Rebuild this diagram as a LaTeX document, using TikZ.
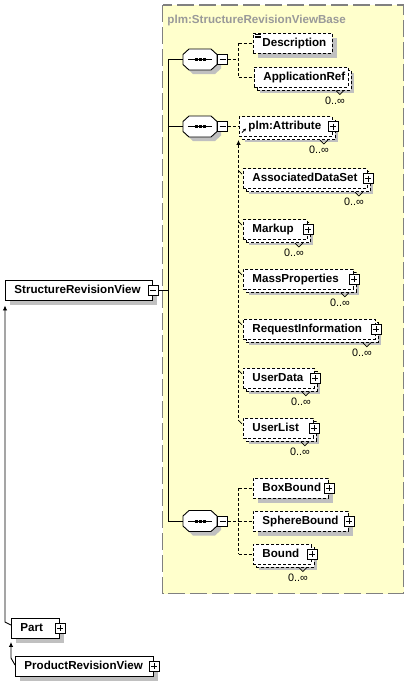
\documentclass[tikz,border=0pt]{standalone}
\usepackage{fontspec}
\setmainfont{Liberation Sans}
\usetikzlibrary{calc,arrows.meta}
\definecolor{shadowc}{RGB}{192,192,192}
\definecolor{yel}{RGB}{255,255,204}
\definecolor{framec}{RGB}{128,128,128}
\definecolor{titlec}{RGB}{153,153,153}
\newcommand{\seqcomp}[3]{%
\begin{scope}[shift={(#2,#3)}]
 \fill[shadowc] (-7,-6.5) -- (15,-6.5) -- (21,-1) -- (21,9) -- (15,14.5) -- (-7,14.5) -- (-13,9) -- (-13,-1) -- cycle;
 \draw[fill=white] (-11,-10.5) -- (11,-10.5) -- (17,-5) -- (17,5) -- (11,10.5) -- (-11,10.5) -- (-17,5) -- (-17,-5) -- cycle;
 \node[inner sep=0pt, minimum width=34, minimum height=21] (#1) at (0,0) {};
 \draw[line width=0.8pt] (-12,0) -- (12,0);
 \fill (-5.5,-1.5) rectangle (-2.5,1.5);
 \fill (-1.5,-1.5) rectangle (1.5,1.5);
 \fill (2.5,-1.5) rectangle (5.5,1.5);
 \node[minus] (#1m) at (22.5,0) {};
\end{scope}}
\newcommand{\occ}[1]{%
 \draw[solid, line width=0.7pt] ($(#1.south east)+(-13,3)$) -- ++(4,4) -- ++(4,-4);
 \node[lbl] (#1occ) at ($(#1.south east)+(-14,13)$) {0..∞};}
\newcommand{\subtick}[1]{%
 \draw[solid, line width=0.7pt] ($(#1.north -| sx)+(0,2.5)$) -- ($(#1.north west)+(-1,6)$);}
\begin{document}
\begin{tikzpicture}[x=1pt,y=-1pt,line width=0.9pt,
  el/.style={draw, fill=white, anchor=west, minimum height=20, inner xsep=9pt, inner ysep=0pt,
    font=\bfseries\fontsize{11.6}{13}\selectfont, text height=8.5pt, text depth=2.3pt},
  opt/.style={dash pattern=on 3pt off 2pt},
  sh/.style={preaction={draw=none, fill=shadowc, transform canvas={xshift=4.5pt, yshift=-4.5pt}}},
  multi/.style={preaction={draw=none, fill=shadowc, transform canvas={xshift=5.5pt, yshift=-5.5pt}},
    preaction={draw, fill=white, line width=0.9pt, dash pattern=on 3pt off 2pt, transform canvas={xshift=3pt, yshift=-3pt}}},
  pmbox/.style={draw, solid, fill=white, minimum size=10, inner sep=0pt, line width=0.8pt},
  plus/.style={pmbox, path picture={
    \draw[solid, line width=0.8pt] ($(path picture bounding box.west)+(2,0)$) -- ($(path picture bounding box.east)+(-2,0)$);
    \draw[solid, line width=0.8pt] ($(path picture bounding box.north)+(0,2)$) -- ($(path picture bounding box.south)+(0,-2)$);}},
  minus/.style={pmbox, path picture={
    \draw[solid, line width=0.8pt] ($(path picture bounding box.west)+(2,0)$) -- ($(path picture bounding box.east)+(-2,0)$);}},
  lbl/.style={font=\fontsize{10.8}{12}\selectfont, inner sep=0pt},
  ttl/.style={font=\bfseries\fontsize{11.6}{13}\selectfont, text=titlec, anchor=base west, inner sep=0pt},
  arr/.style={{Latex[length=5pt,width=4.5pt]}-}
]
\useasboundingbox (0,0) rectangle (409,689);
\draw[framec, fill=yel, line width=1.5pt, dash pattern=on 17pt off 5pt] (162.5,5) rectangle (403.5,593.5);
\node[ttl] (title) at (167,23) {plm:StructureRevisionViewBase};

% global elements
\node[el, sh] (srv) at (5,290.5) {\makebox[129pt][l]{StructureRevisionView}};
\node[minus] (srvm) at (srv.east) {};
\node[el, sh] (part) at (11,628) {\makebox[30pt][l]{Part}};
\node[plus] (partp) at (part.east) {};
\node[el, sh] (prv) at (15,666) {\makebox[120pt][l]{ProductRevisionView}};
\node[plus] (prvp) at (prv.east) {};

% compositors
\seqcomp{seqa}{200}{59.5}
\seqcomp{seqb}{200}{126.5}
\seqcomp{seqc}{200}{521}

% sequence 1 children
\node[el, opt, sh] (desc) at (253,43) {\makebox[61pt][l]{Description}};
\draw[solid, line width=0.6pt] ($(desc.north west)+(2,1.5)$) -- ++(6,0)
  ($(desc.north west)+(2,3.3)$) -- ++(6,0) ($(desc.north west)+(2,5.1)$) -- ++(6,0);
\node[el, opt, multi] (appref) at (254,77) {\makebox[76pt][l]{ApplicationRef}};
\occ{appref}

% sequence 2 children
\node[el, opt, multi] (attr) at (239,126.5) {\makebox[75pt][l]{plm:Attribute}};
\node[plus] (attrp) at (attr.east) {};
\occ{attr}
\draw[solid, line width=0.8pt, -{Stealth[length=3pt,width=3pt]}] ($(attr.west)+(3,6)$) -- ++(4,-4);

\node[el, opt, multi] (ads) at (243,178.5) {\makebox[106pt][l]{AssociatedDataSet}};
\node[plus] (adsp) at (ads.east) {};
\occ{ads}
\node[el, opt, multi] (markup) at (243,229.5) {\makebox[46pt][l]{Markup}};
\node[plus] (markupp) at (markup.east) {};
\occ{markup}
\node[el, opt, multi] (mass) at (243,279.3) {\makebox[92pt][l]{MassProperties}};
\node[plus] (massp) at (mass.east) {};
\occ{mass}
\node[el, opt, multi] (req) at (243,329.3) {\makebox[114pt][l]{RequestInformation}};
\node[plus] (reqp) at (req.east) {};
\occ{req}
\node[el, opt, multi] (udata) at (243,378.3) {\makebox[53pt][l]{UserData}};
\node[plus] (udatap) at (udata.east) {};
\occ{udata}
\node[el, opt, multi] (ulist) at (243,428.3) {\makebox[52pt][l]{UserList}};
\node[plus] (ulistp) at (ulist.east) {};
\occ{ulist}

% sequence 3 children
\node[el, opt, sh] (boxb) at (253,488.3) {\makebox[57pt][l]{BoxBound}};
\node[plus] (boxbp) at (boxb.east) {};
\node[el, opt, sh] (sphb) at (253,521) {\makebox[77pt][l]{SphereBound}};
\node[plus] (sphbp) at (sphb.east) {};
\node[el, opt, multi] (bound) at (253,554) {\makebox[40pt][l]{Bound}};
\node[plus] (boundp) at (bound.east) {};
\occ{bound}

% main connectors
\coordinate (mv) at (168,0);
\draw (srvm.east) -- (srvm.east -| mv);
\draw (seqa.west -| mv) -- (seqc.west -| mv);
\draw (seqa.west -| mv) -- (seqa.west);
\draw (seqb.west -| mv) -- (seqb.west);
\draw (seqc.west -| mv) -- (seqc.west);

% optional connectors
\coordinate (sx) at (238.5,0);
\draw[opt] (seqam.east) -- (seqam.east -| sx);
\draw[opt] (desc.west -| sx) -- (appref.west -| sx);
\draw[opt] (desc.west -| sx) -- (desc.west);
\draw[opt] (appref.west -| sx) -- (appref.west);

\draw[opt] (seqbm.east) -- (attr.west);

\draw[opt] (seqcm.east) -- (seqcm.east -| sx);
\draw[opt] (boxb.west -| sx) -- (bound.west -| sx);
\draw[opt] (boxb.west -| sx) -- (boxb.west);
\draw[opt] (sphb.west -| sx) -- (sphb.west);
\draw[opt] (bound.west -| sx) -- (bound.west);

% substitution group
\draw[opt, arr] ($(attr.south -| sx)+(0,3)$) -- ($(ulist.north -| sx)+(0,3)$);
\subtick{ads}
\subtick{markup}
\subtick{mass}
\subtick{req}
\subtick{udata}
\subtick{ulist}

% derivation
\coordinate (da) at ($(srv.south west)+(0,4.5)$);
\coordinate (db) at ($(part.west)+(-6,-6)$);
\draw[arr] (da) -- (db) -- ($(part.west)+(0,-3)$);
\coordinate (dc) at ($(part.south west)+(0,3.5)$);
\coordinate (dd) at ($(prv.west)+(-4,-8)$);
\draw[arr] (dc) -- (dd) -- ($(prv.west)+(0,-1)$);
\end{tikzpicture}
\end{document}
